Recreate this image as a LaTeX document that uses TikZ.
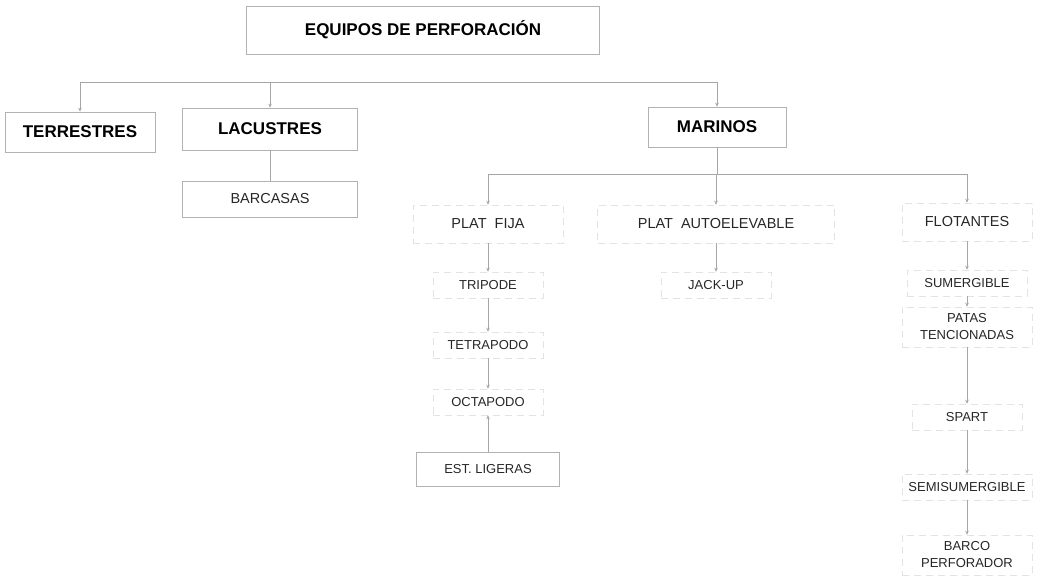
\documentclass[tikz,border=0pt]{standalone}
\usepackage{fontspec}
\setmainfont{Liberation Sans}
\usetikzlibrary{arrows.meta}
\begin{document}
\begin{tikzpicture}[x=1pt, y=-1pt,
  every node/.style={align=center, inner sep=1pt},
  grupo/.style={rectangle, draw=gray!60, line width=0.6pt, font=\fontsize{17}{20}\selectfont\bfseries},
  item/.style={rectangle, draw=gray!22, line width=0.5pt, dash pattern=on 7pt off 5pt, text=black!85, font=\fontsize{13}{17}\selectfont},
  rama/.style={item, font=\fontsize{14.5}{17}\selectfont},
  linea/.style={draw=gray!70, line width=0.6pt},
  flecha/.style={linea, -{Stealth[length=4pt, width=3.5pt]}}
]
\useasboundingbox (0,0) rectangle (1042,578);
% Nivel superior
\node[grupo, minimum width=353, minimum height=48] (equipos) at (423,30) {EQUIPOS DE PERFORACIÓN};
\node[grupo, minimum width=150, minimum height=40] (terr) at (80,132) {TERRESTRES};
\node[grupo, minimum width=175, minimum height=42] (lac) at (270,129) {LACUSTRES};
\node[grupo, minimum width=138, minimum height=40] (mar) at (717,127) {MARINOS};
\node[grupo, minimum width=175, minimum height=36, font=\fontsize{14.5}{17}\selectfont, text=black!85] (barc) at (270,199) {BARCASAS};

% Marinos: tres ramas
\node[rama, minimum width=150, minimum height=38] (fija) at (488,224) {PLAT\ \ FIJA};
\node[rama, minimum width=237, minimum height=38] (auto) at (716,224) {PLAT\ \ AUTOELEVABLE};
\node[rama, minimum width=130, minimum height=38] (flot) at (967,222) {FLOTANTES};

% Plataforma fija
\node[item, minimum width=110, minimum height=26] (trip) at (488,285) {TRIPODE};
\node[item, minimum width=110, minimum height=26] (tetra) at (488,345) {TETRAPODO};
\node[item, minimum width=110, minimum height=26] (octa) at (488,402) {OCTAPODO};
\node[grupo, minimum width=143, minimum height=34, font=\fontsize{13}{17}\selectfont, text=black!85] (lig) at (488,469) {EST. LIGERAS};

% Autoelevable
\node[item, minimum width=110, minimum height=26] (jack) at (716,285) {JACK-UP};

% Flotantes
\node[item, minimum width=120, minimum height=26] (sum) at (967,283) {SUMERGIBLE};
\node[item, minimum width=130, minimum height=40] (patas) at (967,327) {PATAS\\TENCIONADAS};
\node[item, minimum width=110, minimum height=26] (spart) at (967,417) {SPART};
\node[item, minimum width=130, minimum height=26] (semi) at (967,487) {SEMISUMERGIBLE};
\node[item, minimum width=130, minimum height=40] (barco) at (967,555) {BARCO\\PERFORADOR};

% Conectores
\coordinate (bus) at (0,82);
\coordinate (bus2) at (0,174);
\draw[linea] (terr.north |- bus) -- (mar.north |- bus);
\foreach \n in {terr,lac,mar}
  \draw[flecha] (\n.north |- bus) -- (\n.north);
\draw[linea] (lac.south) -- (barc.north);
\draw[linea] (mar.south) -- (mar.south |- bus2);
\draw[linea] (fija.north |- bus2) -- (flot.north |- bus2);
\foreach \n in {fija,auto,flot}
  \draw[flecha] (\n.north |- bus2) -- (\n.north);
\draw[flecha] (fija.south) -- (trip.north);
\draw[flecha] (trip.south) -- (tetra.north);
\draw[flecha] (tetra.south) -- (octa.north);
\draw[flecha] (lig.north) -- (octa.south);
\draw[flecha] (auto.south) -- (jack.north);
\draw[flecha] (flot.south) -- (sum.north);
\draw[flecha] (sum.south) -- (patas.north);
\draw[flecha] (patas.south) -- (spart.north);
\draw[flecha] (spart.south) -- (semi.north);
\draw[flecha] (semi.south) -- (barco.north);
\end{tikzpicture}
\end{document}
